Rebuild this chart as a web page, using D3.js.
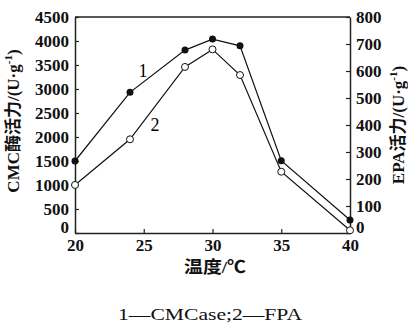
<!DOCTYPE html>
<html lang="zh">
<head>
<meta charset="UTF-8">
<script src="https://d3js.org/d3.v7.min.js"></script>
<style>
  body { margin: 0; background: #fff; }
</style>
</head>
<body>
<svg id="chart" width="408" height="329"></svg>
<script>
// 温度 (℃)
const temps = [20, 24, 28, 30, 32, 35, 40];
// 曲线1: CMC酶活力 (左轴)
const cmcValues = [1500, 2930, 3810, 4040, 3900, 1505, 270];
// 曲线2: FPA 活力 (右轴)
const fpaValues = [178, 347, 615, 680, 585, 227, 10];
const xTicks = [20, 25, 30, 35, 40];
const yLeftTicks = [0, 500, 1000, 1500, 2000, 2500, 3000, 3500, 4000, 4500];
const yRightTicks = [0, 100, 200, 300, 400, 500, 600, 700, 800];

const serif = "'Liberation Serif', 'Times New Roman', serif";
const mixed = "'Liberation Serif', 'Noto Sans CJK SC', serif";

const m = { left: 75, right: 350, top: 17, bottom: 233 };
const svg = d3.select("#chart");

const x = d3.scaleLinear().domain([20, 40]).range([m.left, m.right]);
const yL = d3.scaleLinear().domain([0, 4500]).range([m.bottom, m.top]);
const yR = d3.scaleLinear().domain([0, 800]).range([m.bottom, m.top]);

// 顶部边框
svg.append("line")
    .attr("x1", m.left).attr("x2", m.right)
    .attr("y1", m.top).attr("y2", m.top)
    .attr("stroke", "#222").attr("stroke-width", 1.3);

function styleAxis(g) {
    g.select(".domain").attr("stroke", "#222").attr("stroke-width", 1.5);
    g.selectAll(".tick line").attr("stroke", "#222").attr("stroke-width", 1.2);
    g.selectAll(".tick text")
        .style("font-family", serif)
        .style("font-weight", "bold")
        .style("font-size", "17px")
        .attr("fill", "#111");
}

// x 轴 (刻度朝内)
svg.append("g")
    .attr("transform", "translate(0," + m.bottom + ")")
    .call(d3.axisBottom(x).tickValues(xTicks).tickSizeInner(-4).tickSizeOuter(0).tickPadding(6))
    .call(styleAxis);

// 左 y 轴
const gL = svg.append("g")
    .attr("transform", "translate(" + m.left + ",0)")
    .call(d3.axisLeft(yL).tickValues(yLeftTicks).tickFormat(d3.format("d")).tickSizeInner(-4).tickSizeOuter(0).tickPadding(6))
    .call(styleAxis);

// 右 y 轴
const gR = svg.append("g")
    .attr("transform", "translate(" + m.right + ",0)")
    .call(d3.axisRight(yR).tickValues(yRightTicks).tickFormat(d3.format("d")).tickSizeInner(-4).tickSizeOuter(0).tickPadding(6))
    .call(styleAxis);

// 两个 "0" 稍微上移，避免与 x 轴刻度重叠
gL.selectAll(".tick text").filter(d => d === 0).attr("dy", "-0.05em");
gR.selectAll(".tick text").filter(d => d === 0).attr("dy", "-0.05em");

const cmcData = temps.map((t, i) => ({ t: t, v: cmcValues[i] }));
const fpaData = temps.map((t, i) => ({ t: t, v: fpaValues[i] }));

svg.append("path")
    .datum(cmcData)
    .attr("fill", "none").attr("stroke", "#111").attr("stroke-width", 1.2)
    .attr("d", d3.line().x(d => x(d.t)).y(d => yL(d.v)));

svg.append("path")
    .datum(fpaData)
    .attr("fill", "none").attr("stroke", "#111").attr("stroke-width", 1.2)
    .attr("d", d3.line().x(d => x(d.t)).y(d => yR(d.v)));

svg.append("g").selectAll("circle")
    .data(cmcData).enter().append("circle")
    .attr("cx", d => x(d.t)).attr("cy", d => yL(d.v))
    .attr("r", 3.5).attr("fill", "#111");

svg.append("g").selectAll("circle")
    .data(fpaData).enter().append("circle")
    .attr("cx", d => x(d.t)).attr("cy", d => yR(d.v))
    .attr("r", 3.5).attr("fill", "#fff").attr("stroke", "#111").attr("stroke-width", 1);

// 曲线编号
svg.append("text").attr("x", 143).attr("y", 77)
    .attr("text-anchor", "middle").style("font-family", serif).style("font-size", "18px").text("1");
svg.append("text").attr("x", 155).attr("y", 131)
    .attr("text-anchor", "middle").style("font-family", serif).style("font-size", "18px").text("2");

// 轴标题
svg.append("text")
    .attr("transform", "translate(19,121) rotate(-90)")
    .attr("text-anchor", "middle")
    .style("font-family", mixed).style("font-size", "17px").style("font-weight", "bold")
    .attr("fill", "#111")
    .html("CMC酶活力/(U·g<tspan dy='-7' font-size='11'>-1</tspan><tspan dy='7'>)</tspan>");

svg.append("text")
    .attr("transform", "translate(404,125) rotate(-90)")
    .attr("text-anchor", "middle")
    .style("font-family", mixed).style("font-size", "17px").style("font-weight", "bold")
    .attr("fill", "#111")
    .html("EPA活力/(U·g<tspan dy='-7' font-size='11'>-1</tspan><tspan dy='7'>)</tspan>");

svg.append("text")
    .attr("x", 215).attr("y", 273)
    .attr("text-anchor", "middle")
    .style("font-family", mixed).style("font-size", "17px").style("font-weight", "bold")
    .attr("fill", "#111")
    .attr("textLength", 62).attr("lengthAdjust", "spacingAndGlyphs")
    .text("温度/℃");

// 图注
svg.append("text")
    .attr("x", 210).attr("y", 320)
    .attr("text-anchor", "middle")
    .style("font-family", mixed).style("font-size", "17px")
    .attr("fill", "#111")
    .attr("textLength", 184).attr("lengthAdjust", "spacingAndGlyphs")
    .text("1—CMCase;2—FPA");
</script>
</body>
</html>
